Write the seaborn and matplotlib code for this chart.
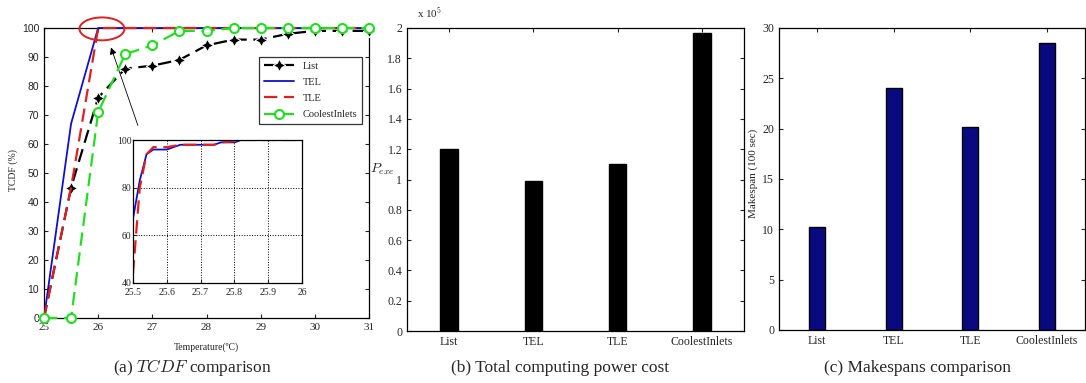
import matplotlib
matplotlib.use("Agg")
import matplotlib.pyplot as plt
import seaborn as sns
from matplotlib.patches import Ellipse
from matplotlib.ticker import FuncFormatter

sns.set_style("ticks")
plt.rcParams["font.family"] = ["Liberation Serif", "DejaVu Serif"]
plt.rcParams["mathtext.fontset"] = "cm"
plt.rcParams["xtick.direction"] = "in"
plt.rcParams["ytick.direction"] = "in"
plt.rcParams["axes.edgecolor"] = "black"

# data
temps = [25, 25.5, 26, 26.5, 27, 27.5, 28, 28.5, 29, 29.5, 30, 30.5, 31]
tcdf_list = [0, 45, 76, 86, 87, 89, 94, 96, 96, 98, 99, 99, 99]
tcdf_tel = [0, 67, 100, 100, 100, 100, 100, 100, 100, 100, 100, 100, 100]
tcdf_tle = [0, 45, 100, 100, 100, 100, 100, 100, 100, 100, 100, 100, 100]
tcdf_coolest = [0, 0, 71, 91, 94, 99, 99, 100, 100, 100, 100, 100, 100]

zoom_temps = [25.5, 25.52, 25.54, 25.56, 25.6, 25.64, 25.74, 25.76, 25.8, 25.82, 26]
zoom_tel = [67, 83, 94, 96, 96, 98, 98, 99, 99, 100, 100]
zoom_tle = [44, 80, 94, 97, 97, 98, 98, 99, 99.5, 100, 100]

methods = ["List", "TEL", "TLE", "CoolestInlets"]
power_cost = [1.2e5, 0.99e5, 1.1e5, 1.97e5]
makespan = [10.2, 24.0, 20.2, 28.5]

W, H = 1086, 383
fig = plt.figure(figsize=(W / 100, H / 100), dpi=100)


def px_axes(left, right, top, bottom):
    return fig.add_axes([left / W, 1 - bottom / H, (right - left) / W, (bottom - top) / H])


def matlab_box(ax):
    for s in ax.spines.values():
        s.set_visible(True)
        s.set_linewidth(0.9)
    ax.tick_params(top=True, right=True, length=3, width=0.8)


# (a) TCDF
ax1 = px_axes(44, 369, 28, 318)
sns.lineplot(x=temps, y=tcdf_list, ax=ax1, color="black", lw=1.6, marker=(4, 1, 0),
             ms=9, label="List", zorder=3)
ax1.lines[-1].set_dashes((6, 3))
sns.lineplot(x=temps, y=tcdf_tel, ax=ax1, color="#1010cc", lw=1.3, label="TEL", zorder=3)
sns.lineplot(x=temps, y=tcdf_tle, ax=ax1, color="#e02020", lw=1.6, label="TLE", zorder=4)
ax1.lines[-1].set_dashes((6, 3))
sns.lineplot(x=temps, y=tcdf_coolest, ax=ax1, color="#22dd22", lw=1.6, marker="o",
             ms=6.5, mfc="white", mec="#22dd22", mew=1.5, label="CoolestInlets", zorder=5)
ax1.lines[-1].set_dashes((6, 3))
for ln in ax1.lines:
    ln.set_clip_on(False)
ax1.set_xlim(25, 31)
ax1.set_ylim(0, 100)
ax1.set_xticks(range(25, 32))
ax1.set_yticks(range(0, 101, 10))
matlab_box(ax1)
ax1.tick_params(axis="x", labelsize=8)
ax1.tick_params(axis="y", labelsize=7.5)
for t in ax1.get_yticklabels():
    t.set_family("Liberation Sans")
ax1.set_xlabel("Temperature(ºC)", fontsize=7)
ax1.xaxis.set_label_coords(0.5, -0.085)
ax1.set_ylabel("TCDF (%)", fontsize=7)
ax1.yaxis.set_label_coords(-0.08, 0.51)
leg = ax1.legend(loc="upper left", bbox_to_anchor=(0.662, 0.9), borderaxespad=0,
                 fontsize=7.5, frameon=True, fancybox=False, edgecolor="black",
                 handlelength=2.9, borderpad=0.45, labelspacing=0.65)
leg.get_frame().set_linewidth(0.9)
ax1.add_patch(Ellipse((26.07, 99.7), 0.83, 7.9, fill=False, ec="#dd2020", lw=1.4,
                      clip_on=False, zorder=6))
ax1.annotate("", xy=(26.22, 94.2), xytext=(26.75, 65.5),
             arrowprops=dict(arrowstyle="-|>", color="black", lw=0.6, mutation_scale=10))

ins = px_axes(133, 302, 140, 283)
sns.lineplot(x=zoom_temps, y=zoom_tel, ax=ins, color="#1010cc", lw=1.3)
sns.lineplot(x=zoom_temps, y=zoom_tle, ax=ins, color="#e02020", lw=1.6)
ins.lines[-1].set_dashes((6, 3))
ins.set_xlim(25.5, 26)
ins.set_ylim(40, 100)
ins.set_xticks([25.5, 25.6, 25.7, 25.8, 25.9, 26])
ins.set_xticklabels(["25.5", "25.6", "25.7", "25.8", "25.9", "26"])
ins.set_yticks([40, 60, 80, 100])
ins.grid(True, ls=":", color="black", lw=0.7)
for s in ins.spines.values():
    s.set_linewidth(0.9)
ins.tick_params(labelsize=7, length=3)
ins.tick_params(axis="x", pad=3.5)
ins.tick_params(axis="y", pad=1)

# (b) power cost
ax2 = px_axes(407, 744, 28, 331)
sns.barplot(x=methods, y=power_cost, ax=ax2, color="black", saturation=1, width=0.21,
            edgecolor="black")
ax2.set_xlim(-0.5, 3.5)
ax2.set_ylim(0, 2e5)
ax2.set_yticks([i * 0.2e5 for i in range(11)])
ax2.yaxis.set_major_formatter(FuncFormatter(lambda v, p: "%g" % round(v / 1e5, 1)))
matlab_box(ax2)
ax2.tick_params(labelsize=8.5)
ax2.set_ylabel("$P_{exe}$", fontsize=10, rotation=0, ha="right", va="center")
ax2.yaxis.set_label_coords(-0.035, 0.535)
ax2.text(0.03, 1.025, "x 10$^5$", transform=ax2.transAxes, fontsize=8, va="bottom")

# (c) makespan
ax3 = px_axes(779, 1085, 28, 330)
sns.barplot(x=methods, y=makespan, ax=ax3, color="#0a0a80", saturation=1, width=0.21,
            edgecolor="black")
ax3.set_xlim(-0.5, 3.5)
ax3.set_ylim(0, 30)
ax3.set_yticks(range(0, 31, 5))
matlab_box(ax3)
ax3.tick_params(labelsize=8.5)
ax3.set_ylabel("Makespan (100 sec)", fontsize=8)
ax3.yaxis.set_label_coords(-0.07, 0.52)

# captions
cy = 1 - 368 / H
fig.text(192 / W, cy, "(a) $TCDF$ comparison", ha="center", va="center", fontsize=12.5)
fig.text(560 / W, cy, "(b) Total computing power cost", ha="center", va="center", fontsize=12.5)
fig.text(917 / W, cy, "(c) Makespans comparison", ha="center", va="center", fontsize=12.5)

fig.savefig("out.png", dpi=100)
